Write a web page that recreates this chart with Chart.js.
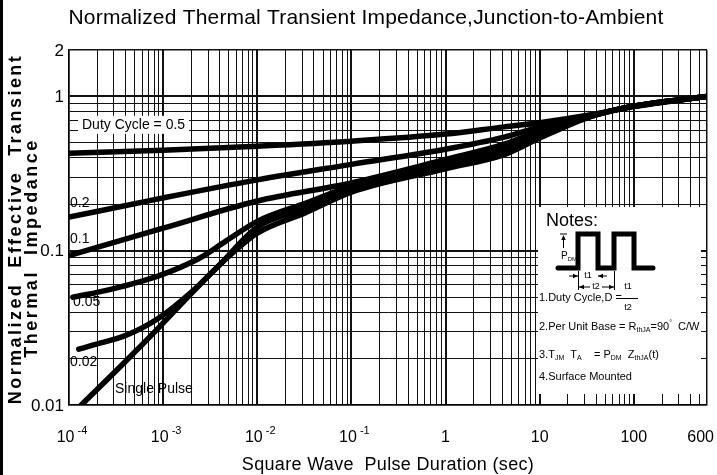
<!DOCTYPE html>
<html>
<head>
<meta charset="utf-8">
<script src="https://cdn.jsdelivr.net/npm/chart.js@4.4.1/dist/chart.umd.min.js"></script>
<style>
  html, body { margin: 0; padding: 0; background: #fff; }
  canvas { display: block; }
</style>
</head>
<body>
<canvas id="chart" width="717" height="475"></canvas>
<script>
// pulse duration (s) and normalized Zth
const t05 = [1e-4, 1e-3, 1e-2, 0.1, 1, 4.2, 10, 35, 100, 600];
const z05 = [0.428, 0.448, 0.476, 0.513, 0.57, 0.635, 0.675, 0.76, 0.86, 1.0];

const t02 = [1e-4, 1e-3, 1e-2, 0.1, 1, 4.2, 10, 35, 100, 600];
const z02 = [0.165, 0.22, 0.288, 0.363, 0.455, 0.545, 0.635, 0.75, 0.865, 1.0];

const t01 = [1e-4, 1e-3, 1e-2, 0.1, 1, 4.2, 10, 35, 100, 600];
const z01 = [0.093, 0.14, 0.21, 0.275, 0.39, 0.49, 0.6, 0.745, 0.865, 1.0];

const t005 = [1.1e-4, 2.7e-4, 9.1e-4, 2.4e-3, 4.6e-3, 1e-2, 0.033, 0.1, 1, 4.2, 10, 35, 100, 600];
const z005 = [0.05, 0.056, 0.069, 0.089, 0.115, 0.155, 0.204, 0.262, 0.373, 0.47, 0.57, 0.745, 0.865, 1.0];

const t002 = [1.27e-4, 1.82e-4, 4.1e-4, 9.1e-4, 2.0e-3, 3.9e-3, 1e-2, 0.033, 0.1, 1, 4.2, 10, 35, 100, 600];
const z002 = [0.023, 0.0245, 0.0284, 0.0368, 0.054, 0.08, 0.142, 0.189, 0.25, 0.357, 0.45, 0.555, 0.745, 0.865, 1.0];

const tSingle = [1.33e-4, 4.1e-4, 9.1e-4, 2.0e-3, 4.7e-3, 1e-2, 0.033, 0.1, 1, 4.2, 10, 35, 100, 600];
const zSingle = [0.0099, 0.0195, 0.032, 0.053, 0.089, 0.13, 0.177, 0.24, 0.34, 0.42, 0.537, 0.74, 0.865, 1.0];

const curveNames = ['Duty Cycle = 0.5', '0.2', '0.1', '0.05', '0.02', 'Single Pulse'];

const xTickValues = [1e-4, 1e-3, 1e-2, 1e-1, 1, 10, 100, 600];
const xTickBase = ['10', '10', '10', '10', '1', '10', '100', '600'];
const xTickExp = ['-4', '-3', '-2', '-1', '', '', '', ''];
const yTickValues = [0.01, 0.1, 1, 2];
const yTickLabels = ['0.01', '0.1', '1', '2'];

const FONT = '"Liberation Sans", Arial, Helvetica, sans-serif';

// where the curve names sit: pixel offset from the left edge, value on the y axis
const labelSpots = [
  { dx: 13, y: 0.655, bg: true },
  { dx: 1, y: 0.203 },
  { dx: 1, y: 0.119 },
  { dx: 4, y: 0.0465 },
  { dx: 1, y: 0.019 },
  { dx: 46, y: 0.0126 }
];

function pairUp(xs, ys) {
  return xs.map((x, i) => ({ x: x, y: ys[i] }));
}

// 1..9 per decade, used for the paper grid
function logGrid(lo, hi) {
  const out = [];
  for (let e = Math.floor(Math.log10(lo)); e <= Math.ceil(Math.log10(hi)); e++) {
    for (let d = 1; d <= 9; d++) {
      const v = parseFloat((d * Math.pow(10, e)).toPrecision(3));
      if (v >= lo * 0.999 && v <= hi * 1.001) out.push(v);
    }
  }
  return out;
}

function isDecade(v) {
  const l = Math.log10(v);
  return Math.abs(l - Math.round(l)) < 1e-6;
}

const series = [
  pairUp(t05, z05), pairUp(t02, z02), pairUp(t01, z01),
  pairUp(t005, z005), pairUp(t002, z002), pairUp(tSingle, zSingle)
];

function gridWidth(scale) {
  return c => {
    if (!c.tick) return 1;
    const v = c.tick.value;
    if (Math.abs(v - scale.min) < 1e-12 || Math.abs(v - scale.max) < 1e-9) return 1.5;
    return isDecade(v) ? 2 : 1;
  };
}

function drawRich(ctx, x, y, parts, size) {
  let cx = x;
  parts.forEach(p => {
    const kind = p[1] || 'n';
    const fs = kind === 'n' ? size : Math.round(size * 0.62);
    const dy = kind === 'sub' ? size * 0.32 : (kind === 'sup' ? -size * 0.38 : 0);
    ctx.font = fs + 'px ' + FONT;
    ctx.fillText(p[0], cx, y + dy);
    cx += ctx.measureText(p[0]).width;
  });
  return cx;
}

function arrowHead(ctx, x, y, dir, len) {
  // dir: 'l','r','u'
  ctx.beginPath();
  if (dir === 'r') { ctx.moveTo(x, y); ctx.lineTo(x - len, y - len / 2.2); ctx.lineTo(x - len, y + len / 2.2); }
  if (dir === 'l') { ctx.moveTo(x, y); ctx.lineTo(x + len, y - len / 2.2); ctx.lineTo(x + len, y + len / 2.2); }
  if (dir === 'u') { ctx.moveTo(x, y); ctx.lineTo(x - len / 2.2, y + len); ctx.lineTo(x + len / 2.2, y + len); }
  ctx.closePath();
  ctx.fill();
}

// centred text stretched to the width it has in the scan
function spacedText(ctx, text, cx, cy, target) {
  ctx.letterSpacing = '0px';
  const w = ctx.measureText(text).width;
  const n = text.length;
  if ('letterSpacing' in ctx && n > 1 && target > w) {
    ctx.letterSpacing = ((target - w) / (n - 1)).toFixed(2) + 'px';
  }
  const w2 = ctx.measureText(text).width;
  ctx.textAlign = 'left';
  ctx.fillText(text, cx - w2 / 2, cy);
  ctx.letterSpacing = '0px';
}

const decorations = {
  id: 'decorations',
  afterDraw(chart) {
    const ctx = chart.ctx;
    const ca = chart.chartArea;
    const xs = chart.scales.x;
    const ys = chart.scales.y;
    ctx.save();
    ctx.fillStyle = '#000';
    ctx.textBaseline = 'middle';

    // left black strip of the scan
    ctx.fillRect(0, 0, 3, chart.height);

    // title
    ctx.font = '21px ' + FONT;
    spacedText(ctx, 'Normalized Thermal Transient Impedance,Junction-to-Ambient', 366, 18, 595);

    // y tick labels
    ctx.font = '17px ' + FONT;
    ctx.textAlign = 'right';
    yTickValues.forEach((v, i) => {
      ctx.fillText(yTickLabels[i], ca.left - 5, ys.getPixelForValue(v) + 1);
    });

    // x tick labels with raised exponents
    ctx.textAlign = 'left';
    xTickValues.forEach((v, i) => {
      ctx.font = '16px ' + FONT;
      const wb = ctx.measureText(xTickBase[i]).width;
      ctx.font = '11px ' + FONT;
      const we = xTickExp[i] ? ctx.measureText(xTickExp[i]).width + 3 : 0;
      let sx = xs.getPixelForValue(v) - (wb + we) / 2 + (we ? 3 : 0);
      if (sx + wb + we > chart.width - 3) sx = chart.width - 3 - wb - we;
      ctx.font = '16px ' + FONT;
      ctx.fillText(xTickBase[i], sx, ca.bottom + 33);
      if (xTickExp[i]) {
        ctx.font = '11px ' + FONT;
        ctx.fillText(xTickExp[i], sx + wb + 3, ca.bottom + 26);
      }
    });

    // axis titles
    ctx.font = '18px ' + FONT;
    spacedText(ctx, 'Square Wave  Pulse Duration (sec)', (ca.left + ca.right) / 2, ca.bottom + 60, 292);

    ctx.save();
    ctx.translate(16, 229);
    ctx.rotate(-Math.PI / 2);
    ctx.font = 'bold 18px ' + FONT;
    spacedText(ctx, 'Normalized  Effective  Transient', 0, 0, 348);
    ctx.restore();
    ctx.save();
    ctx.translate(32, 248);
    ctx.rotate(-Math.PI / 2);
    ctx.font = 'bold 18px ' + FONT;
    spacedText(ctx, 'Thermal  Impedance', 0, 0, 217);
    ctx.restore();

    // curve names
    ctx.textAlign = 'left';
    curveNames.forEach((name, i) => {
      const s = labelSpots[i];
      const px = ca.left + s.dx;
      const py = ys.getPixelForValue(s.y);
      ctx.font = '14px ' + FONT;
      if (s.bg) {
        const w = ctx.measureText(name).width;
        ctx.fillStyle = '#fff';
        ctx.fillRect(px - 4, py - 9, w + 8, 18);
        ctx.fillStyle = '#000';
      }
      ctx.fillText(name, px, py);
    });

    // notes box
    const bx = ca.right - 169;
    const by = ca.bottom - 198;
    ctx.fillStyle = '#fff';
    ctx.fillRect(bx, by, 163, 187);
    ctx.fillStyle = '#000';
    ctx.strokeStyle = '#000';

    ctx.font = '18px ' + FONT;
    ctx.fillText('Notes:', bx + 8, by + 14);

    // pulse train
    ctx.lineWidth = 5;
    ctx.lineJoin = 'miter';
    ctx.lineCap = 'round';
    const base = by + 61, top = by + 27;
    ctx.beginPath();
    ctx.moveTo(bx + 20, base);
    ctx.lineTo(bx + 40, base); ctx.lineTo(bx + 40, top); ctx.lineTo(bx + 60, top); ctx.lineTo(bx + 60, base);
    ctx.lineTo(bx + 76, base); ctx.lineTo(bx + 76, top); ctx.lineTo(bx + 96, top); ctx.lineTo(bx + 96, base);
    ctx.lineTo(bx + 115, base);
    ctx.stroke();

    ctx.lineWidth = 1;
    ctx.lineCap = 'butt';
    // P_DM marker
    ctx.beginPath();
    ctx.moveTo(bx + 22, top); ctx.lineTo(bx + 29, top);
    ctx.moveTo(bx + 25.5, top + 3); ctx.lineTo(bx + 25.5, top + 14);
    ctx.stroke();
    arrowHead(ctx, bx + 25.5, top + 1, 'u', 5);
    drawRich(ctx, bx + 23, top + 22, [['P'], ['DM', 'sub']], 10);

    // t1 dimension
    const r1 = base + 8;
    ctx.beginPath();
    ctx.moveTo(bx + 31, r1); ctx.lineTo(bx + 40, r1);
    ctx.moveTo(bx + 60, r1); ctx.lineTo(bx + 69, r1);
    ctx.stroke();
    arrowHead(ctx, bx + 40, r1, 'r', 5);
    arrowHead(ctx, bx + 60, r1, 'l', 5);
    ctx.font = '9px ' + FONT;
    ctx.textAlign = 'center';
    ctx.fillText('t1', bx + 50, r1);

    // t2 dimension
    const r2 = base + 19;
    ctx.beginPath();
    ctx.moveTo(bx + 40, r2); ctx.lineTo(bx + 52, r2);
    ctx.moveTo(bx + 64, r2); ctx.lineTo(bx + 76, r2);
    ctx.moveTo(bx + 40.5, base + 3); ctx.lineTo(bx + 40.5, r2 + 3);
    ctx.moveTo(bx + 76.5, base + 3); ctx.lineTo(bx + 76.5, r2 + 3);
    ctx.stroke();
    arrowHead(ctx, bx + 41, r2, 'l', 5);
    arrowHead(ctx, bx + 76, r2, 'r', 5);
    ctx.fillText('t2', bx + 58, r2);

    // duty cycle fraction
    ctx.fillText('t1', bx + 90, by + 80);
    ctx.fillText('t2', bx + 90, by + 101);
    ctx.beginPath();
    ctx.moveTo(bx + 80, by + 91.5); ctx.lineTo(bx + 100, by + 91.5);
    ctx.stroke();

    ctx.textAlign = 'left';
    ctx.font = '11px ' + FONT;
    ctx.fillText('1.Duty Cycle,D =', bx + 1, by + 91);
    drawRich(ctx, bx + 1, by + 120, [['2.Per Unit Base = R'], ['thJA', 'sub'], ['=90'], ['\u00B0', 'sup'], ['  C/W']], 11);
    drawRich(ctx, bx + 1, by + 148, [['3.T'], ['JM', 'sub'], ['  T'], ['A', 'sub'], ['    = P'], ['DM', 'sub'], ['  Z'], ['thJA', 'sub'], ['(t)']], 11);
    ctx.font = '11px ' + FONT;
    ctx.fillText('4.Surface Mounted', bx + 1, by + 170);

    ctx.restore();
  }
};

const xGrid = logGrid(1e-4, 600);
const yGrid = logGrid(0.01, 2);

new Chart(document.getElementById('chart'), {
  type: 'line',
  data: {
    datasets: series.map((pts, i) => ({
      label: curveNames[i],
      data: pts,
      borderColor: '#000',
      borderWidth: 5.5,
      pointRadius: 0,
      fill: false,
      cubicInterpolationMode: 'monotone',
      borderCapStyle: 'round',
      borderJoinStyle: 'round'
    }))
  },
  options: {
    responsive: false,
    devicePixelRatio: 1,
    animation: false,
    layout: { padding: { left: 69, top: 50, right: 10, bottom: 70 } },
    plugins: {
      legend: { display: false },
      title: { display: false },
      tooltip: { enabled: false }
    },
    scales: {
      x: {
        type: 'logarithmic',
        min: 1e-4,
        max: 600,
        afterBuildTicks: s => { s.ticks = xGrid.map(v => ({ value: v, major: isDecade(v) })); },
        ticks: { display: false },
        grid: { color: '#111', lineWidth: gridWidth({ min: 1e-4, max: 600 }), drawTicks: false },
        border: { display: true, color: '#000', width: 1.5 }
      },
      y: {
        type: 'logarithmic',
        min: 0.01,
        max: 2,
        afterBuildTicks: s => { s.ticks = yGrid.map(v => ({ value: v, major: isDecade(v) })); },
        ticks: { display: false },
        grid: { color: '#111', lineWidth: gridWidth({ min: 0.01, max: 2 }), drawTicks: false },
        border: { display: true, color: '#000', width: 1.5 }
      }
    }
  },
  plugins: [decorations]
});
</script>
</body>
</html>
